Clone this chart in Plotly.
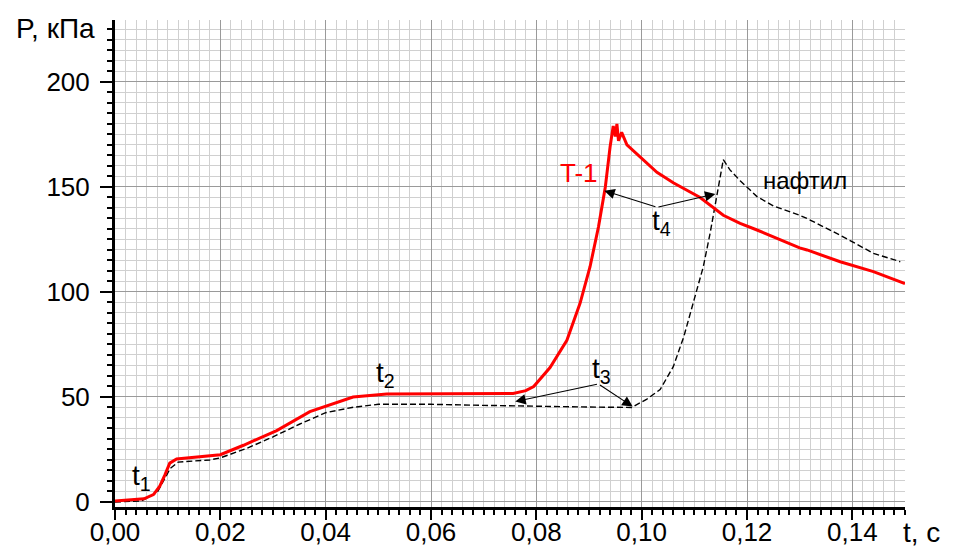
import plotly.graph_objects as go

# T-1 (red) trace: time [s], pressure [kPa]
t1_t = [0.000, 0.002, 0.004, 0.0055, 0.0073, 0.0085, 0.0095, 0.0104, 0.0117, 0.014, 0.018,
        0.020, 0.0244, 0.0307, 0.037, 0.0405, 0.0452, 0.0516, 0.0642, 0.0756, 0.078, 0.0795,
        0.0826, 0.0858, 0.0883, 0.0902, 0.0918, 0.0931, 0.094, 0.0946, 0.0950, 0.0953, 0.0956,
        0.0962, 0.0972, 0.0985, 0.0997, 0.1029, 0.106, 0.1111, 0.1155, 0.1187, 0.1219, 0.125,
        0.130, 0.1314, 0.1377, 0.144, 0.150]
t1_p = [0.5, 0.8, 1.0, 1.5, 3.5, 7.5, 13, 18.5, 20.5, 21, 21.8,
        22.5, 27, 34, 43, 46, 50, 51.4, 51.5, 51.7, 53, 55,
        64, 77, 94.6, 112, 131, 150, 169, 179, 174, 180, 172,
        176, 170, 167, 164, 157, 152, 145, 136.5, 132.7, 129.5, 126.3,
        121, 120, 114.4, 109.7, 104]

# нафтил (black dashed) trace
n_t = [0.000, 0.005, 0.008, 0.0105, 0.012, 0.018, 0.020, 0.025, 0.030, 0.035, 0.040, 0.045,
       0.050, 0.060, 0.070, 0.080, 0.090, 0.0981, 0.101, 0.1035, 0.106, 0.108, 0.1098, 0.1117,
       0.113, 0.114, 0.1149, 0.1155, 0.1168, 0.1187, 0.1219, 0.125, 0.130, 0.1314, 0.1377,
       0.144, 0.1491]
n_p = [0, 0.5, 4.5, 16, 19, 20, 21, 25.5, 31, 37, 42.5, 45,
       46.5, 46.5, 46, 45.5, 45.2, 45, 49, 53.5, 64.4, 78.7, 94.6, 112,
       128, 142, 156.5, 163, 158, 153, 145.4, 141, 136.5, 135, 127,
       118.4, 114.4]

x_ticks = [0.00, 0.02, 0.04, 0.06, 0.08, 0.10, 0.12, 0.14]
y_ticks = [0, 50, 100, 150, 200]

FONT = "Liberation Sans, Arial, sans-serif"
FS = 26

fig = go.Figure()
fig.add_trace(go.Scatter(x=n_t, y=n_p, mode="lines",
                         line=dict(color="black", width=1.4, dash="6px,3px"),
                         showlegend=False, hoverinfo="skip"))
fig.add_trace(go.Scatter(x=t1_t, y=t1_p, mode="lines",
                         line=dict(color="#ff0000", width=3),
                         showlegend=False, hoverinfo="skip"))

# page body has an 8px margin; figure is sized so the plot area lands where the reference has it
OFF = 8
W, H = 954 - OFF, 547 - OFF
L, R, T, B = 115 - OFF, 49, 20 - OFF, 40
pw, ph = W - L - R, H - T - B

def px(xp):
    return (xp - OFF - L) / pw

def py(yp):
    return (H - B - (yp - OFF)) / ph

ann = []
txt_font = dict(family=FONT, size=28, color="black")
ann.append(dict(x=px(97), y=py(28), xref="paper", yref="paper", text="P, кПа",
                showarrow=False, xanchor="right", yanchor="middle", font=txt_font))
ann.append(dict(x=px(901), y=py(532), xref="paper", yref="paper", text="t, c",
                showarrow=False, xanchor="left", yanchor="middle", font=txt_font))

lab_font = dict(family=FONT, size=28, color="black")
for (xx, yy, s) in [(0.0050, 11.5, "t<sub>1</sub>"), (0.0514, 60.5, "t<sub>2</sub>"),
                    (0.0924, 62.4, "t<sub>3</sub>"), (0.1038, 133, "t<sub>4</sub>")]:
    ann.append(dict(x=xx, y=yy, xref="x", yref="y", text=s, showarrow=False,
                    xanchor="center", yanchor="middle", font=lab_font))

ann.append(dict(x=0.0881, y=156.7, xref="x", yref="y", text="T-1", showarrow=False,
                font=dict(family=FONT, size=FS, color="#ff0000")))
ann.append(dict(x=0.1310, y=153.3, xref="x", yref="y", text="нафтил", showarrow=False,
                font=dict(family=FONT, size=24, color="black")))

# arrows (head, tail)
for (hx, hy, tx, ty) in [(0.0760, 47.8, 0.0918, 56.2), (0.0983, 45.4, 0.0918, 56.2),
                         (0.0929, 148.2, 0.1029, 140.3), (0.1140, 146.7, 0.1029, 140.3)]:
    ann.append(dict(x=hx, y=hy, ax=tx, ay=ty, xref="x", yref="y", axref="x", ayref="y",
                    text="", showarrow=True, arrowhead=2, arrowsize=1.9, arrowwidth=1.1,
                    arrowcolor="black", standoff=0, startstandoff=0))

fig.update_layout(
    width=W, height=H,
    margin=dict(l=L, r=R, t=T, b=B, autoexpand=False),
    paper_bgcolor="white", plot_bgcolor="white",
    separators=",.",
    annotations=ann,
    font=dict(family=FONT, size=FS, color="black"),
)

fig.update_xaxes(
    range=[0, 0.15], tickvals=x_ticks, tickformat=".2f", automargin=False,
    ticks="outside", ticklen=10, tickwidth=2, tickcolor="black",
    showline=True, linewidth=3, linecolor="black",
    showgrid=True, gridcolor="#9a9a9a", gridwidth=1,
    zeroline=False, ticklabelstandoff=-10,
    tickfont=dict(family=FONT, size=FS, color="black"),
    minor=dict(dtick=0.002, tick0=0, ticks="outside", ticklen=5, tickwidth=2,
               tickcolor="black", showgrid=True, gridcolor="#d0d0d0", gridwidth=1),
)
fig.update_yaxes(
    range=[-2.4, 229.5], tickvals=y_ticks, automargin=False,
    ticks="outside", ticklen=12, tickwidth=2, tickcolor="black",
    showline=True, linewidth=3, linecolor="black",
    showgrid=True, gridcolor="#9a9a9a", gridwidth=1,
    zeroline=False, ticklabelstandoff=5,
    tickfont=dict(family=FONT, size=FS, color="black"),
    minor=dict(dtick=5, tick0=0, ticks="outside", ticklen=5, tickwidth=2,
               tickcolor="black", showgrid=True, gridcolor="#d0d0d0", gridwidth=1),
)

fig.write_html("out.html")
